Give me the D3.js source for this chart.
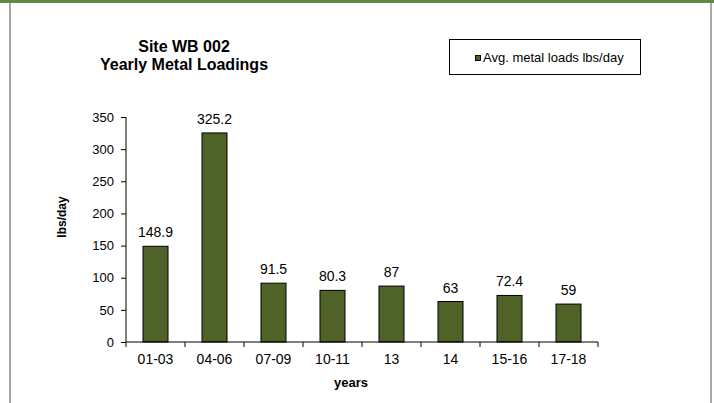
<!DOCTYPE html>
<meta charset="utf-8">
<style>
body { margin: 0; background: #fff; }
* { font-family: "Liberation Sans", Arial, Helvetica, sans-serif; }
</style>
<body>
<script src="https://cdn.jsdelivr.net/npm/d3@7"></script>
<script>

var years = ["01-03", "04-06", "07-09", "10-11", "13", "14", "15-16", "17-18"];
var loads = [148.9, 325.2, 91.5, 80.3, 87, 63, 72.4, 59];
var labels = ["148.9", "325.2", "91.5", "80.3", "87", "63", "72.4", "59"];
var yTicks = [0, 50, 100, 150, 200, 250, 300, 350];

var W = 714, H = 403;
// note: "top" is a reserved window property, so use plot* names
var plotLeft = 126, plotRight = 598, plotTop = 117, plotBottom = 342;

var svg = d3.select("body").append("svg")
    .attr("width", W)
    .attr("height", H);

// frame: green top band, grey sides
svg.append("rect").attr("x", 0).attr("y", 0).attr("width", W).attr("height", 3).attr("fill", "#5f8a3f");
svg.append("rect").attr("x", 9).attr("y", 3).attr("width", 2).attr("height", H).attr("fill", "#a8a8a8");
svg.append("rect").attr("x", 710).attr("y", 3).attr("width", 2).attr("height", H).attr("fill", "#a8a8a8");

var x = d3.scaleBand().domain(years).range([plotLeft, plotRight]);
var y = d3.scaleLinear().domain([0, 350]).range([plotBottom, plotTop]);
var barW = 25;

var data = years.map(function(d, i) { return {year: d, value: loads[i], label: labels[i]}; });

svg.selectAll(".bar")
    .data(data)
  .enter().append("rect")
    .attr("class", "bar")
    .attr("x", function(d) { return x(d.year) + x.bandwidth() / 2 - barW / 2; })
    .attr("y", function(d) { return y(d.value); })
    .attr("width", barW)
    .attr("height", function(d) { return y(0) - y(d.value); })
    .attr("fill", "#4f6228")
    .attr("stroke", "#000")
    .attr("stroke-width", 1);

svg.selectAll(".val")
    .data(data)
  .enter().append("text")
    .attr("class", "val")
    .attr("x", function(d) { return x(d.year) + x.bandwidth() / 2; })
    .attr("y", function(d) { return y(d.value) - 9; })
    .attr("text-anchor", "middle")
    .attr("font-size", "14px")
    .attr("fill", "#000")
    .text(function(d) { return d.label; });

// y axis
var yAxis = svg.append("g")
    .attr("transform", "translate(" + plotLeft + ",0)")
    .call(d3.axisLeft(y).tickValues(yTicks).tickSize(5).tickPadding(7));
yAxis.select(".domain").attr("stroke", "#000").attr("d", "M0," + plotTop + "V" + plotBottom);
yAxis.selectAll("text").attr("font-size", "13px").attr("font-family", "Liberation Sans, Arial, sans-serif");

// x axis with ticks at category boundaries
var xg = svg.append("g").attr("transform", "translate(0," + plotBottom + ")");
xg.append("line").attr("x1", plotLeft).attr("x2", plotRight).attr("y1", 0).attr("y2", 0).attr("stroke", "#000");
var bounds = years.map(function(d) { return x(d); }).concat([plotRight]);
xg.selectAll(".tk").data(bounds).enter().append("line")
    .attr("x1", function(d) { return d; }).attr("x2", function(d) { return d; })
    .attr("y1", 0).attr("y2", 5).attr("stroke", "#000");
xg.selectAll(".xl").data(years).enter().append("text")
    .attr("x", function(d) { return x(d) + x.bandwidth() / 2; })
    .attr("y", 22)
    .attr("text-anchor", "middle")
    .attr("font-size", "14px")
    .text(function(d) { return d; });

// axis titles
svg.append("text")
    .attr("text-anchor", "middle")
    .attr("transform", "translate(66,217)rotate(-90)")
    .attr("font-size", "12px")
    .attr("font-weight", "bold")
    .text("lbs/day");

svg.append("text")
    .attr("x", 351).attr("y", 387)
    .attr("text-anchor", "middle")
    .attr("font-size", "13px")
    .attr("font-weight", "bold")
    .text("years");

// title
svg.append("text")
    .attr("x", 184).attr("y", 52)
    .attr("text-anchor", "middle")
    .attr("font-size", "16px")
    .attr("font-weight", "bold")
    .text("Site WB 002");
svg.append("text")
    .attr("x", 184).attr("y", 70)
    .attr("text-anchor", "middle")
    .attr("font-size", "16px")
    .attr("font-weight", "bold")
    .text("Yearly Metal Loadings");

// legend
svg.append("rect")
    .attr("x", 449.5).attr("y", 39.5).attr("width", 191).attr("height", 35)
    .attr("fill", "#fff").attr("stroke", "#000");
svg.append("rect")
    .attr("x", 475.5).attr("y", 55.5).attr("width", 5).attr("height", 5)
    .attr("fill", "#4f6228").attr("stroke", "#000");
svg.append("text")
    .attr("x", 483).attr("y", 62)
    .attr("font-size", "13px")
    .text("Avg. metal loads lbs/day");

</script>
</body>
</html>
